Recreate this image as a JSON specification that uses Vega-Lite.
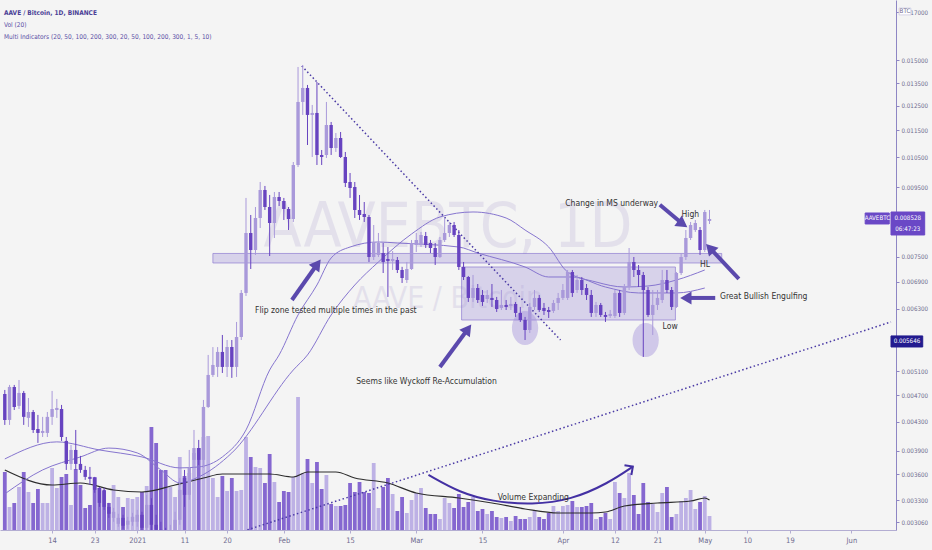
{
  "$schema": "https://vega.github.io/schema/vega-lite/v6.json",
  "width": 896,
  "height": 530,
  "autosize": {"type": "none"},
  "padding": {"left": 0, "top": 0, "right": 36, "bottom": 20},
  "background": "#f4f4f4",
  "title": {
    "text": "AAVE / Bitcoin, 1D, BINANCE",
    "subtitle": ["Vol (20)", "Multi Indicators (20, 50, 100, 200, 300, 20, 50, 100, 200, 300, 1, 5, 10)"],
    "anchor": "start",
    "frame": "group",
    "offset": -40,
    "dx": 4,
    "font": "Liberation Sans Narrow, DejaVu Sans Condensed, sans-serif",
    "fontSize": 6.5,
    "fontWeight": "bold",
    "color": "#4b3f96",
    "subtitleFont": "Liberation Sans Narrow, DejaVu Sans Condensed, sans-serif",
    "subtitleFontSize": 6.5,
    "subtitleColor": "#5b4fa6",
    "subtitlePadding": 5,
    "subtitleLineHeight": 12
  },
  "config": {
    "view": {"stroke": null},
    "axis": {"title": null, "grid": false}
  },
  "datasets": {
    "candles": [
      {"date": "2020-12-04", "o": 0.004722, "h": 0.004786, "l": 0.004253, "c": 0.004325, "v": 58},
      {"date": "2020-12-05", "o": 0.004325, "h": 0.004868, "l": 0.004253, "c": 0.004835, "v": 23},
      {"date": "2020-12-06", "o": 0.004835, "h": 0.004868, "l": 0.004473, "c": 0.004519, "v": 27},
      {"date": "2020-12-07", "o": 0.004535, "h": 0.00495, "l": 0.004488, "c": 0.004738, "v": 43},
      {"date": "2020-12-08", "o": 0.004738, "h": 0.00477, "l": 0.004253, "c": 0.00437, "v": 58},
      {"date": "2020-12-09", "o": 0.004355, "h": 0.004658, "l": 0.004224, "c": 0.004443, "v": 38},
      {"date": "2020-12-10", "o": 0.004443, "h": 0.004473, "l": 0.004139, "c": 0.004181, "v": 27},
      {"date": "2020-12-11", "o": 0.004195, "h": 0.004399, "l": 0.004002, "c": 0.004139, "v": 41},
      {"date": "2020-12-12", "o": 0.004139, "h": 0.00437, "l": 0.004083, "c": 0.004167, "v": 27},
      {"date": "2020-12-13", "o": 0.004139, "h": 0.004443, "l": 0.004083, "c": 0.00437, "v": 27},
      {"date": "2020-12-14", "o": 0.00437, "h": 0.00477, "l": 0.004253, "c": 0.004488, "v": 62},
      {"date": "2020-12-15", "o": 0.004473, "h": 0.004643, "l": 0.004355, "c": 0.004504, "v": 42},
      {"date": "2020-12-16", "o": 0.004488, "h": 0.00455, "l": 0.004029, "c": 0.004083, "v": 53},
      {"date": "2020-12-17", "o": 0.004029, "h": 0.004083, "l": 0.003653, "c": 0.003728, "v": 56},
      {"date": "2020-12-18", "o": 0.003728, "h": 0.003975, "l": 0.003653, "c": 0.003908, "v": 25},
      {"date": "2020-12-19", "o": 0.003908, "h": 0.004181, "l": 0.003653, "c": 0.003728, "v": 61},
      {"date": "2020-12-20", "o": 0.003728, "h": 0.00383, "l": 0.003617, "c": 0.003653, "v": 45},
      {"date": "2020-12-21", "o": 0.003653, "h": 0.003703, "l": 0.003532, "c": 0.003568, "v": 22},
      {"date": "2020-12-22", "o": 0.003568, "h": 0.00369, "l": 0.003473, "c": 0.003544, "v": 25},
      {"date": "2020-12-23", "o": 0.003556, "h": 0.003568, "l": 0.003381, "c": 0.003415, "v": 53},
      {"date": "2020-12-24", "o": 0.003438, "h": 0.00345, "l": 0.003224, "c": 0.003268, "v": 42},
      {"date": "2020-12-25", "o": 0.003415, "h": 0.003438, "l": 0.003192, "c": 0.003224, "v": 39},
      {"date": "2020-12-26", "o": 0.003224, "h": 0.003268, "l": 0.003107, "c": 0.00315, "v": 27},
      {"date": "2020-12-27", "o": 0.003107, "h": 0.003213, "l": 0.003066, "c": 0.003171, "v": 45},
      {"date": "2020-12-28", "o": 0.003045, "h": 0.00315, "l": 0.003015, "c": 0.003107, "v": 33},
      {"date": "2020-12-29", "o": 0.003107, "h": 0.003139, "l": 0.002994, "c": 0.003025, "v": 23},
      {"date": "2020-12-30", "o": 0.003035, "h": 0.003118, "l": 0.002994, "c": 0.003076, "v": 32},
      {"date": "2020-12-31", "o": 0.003066, "h": 0.00316, "l": 0.003025, "c": 0.003118, "v": 31},
      {"date": "2021-01-01", "o": 0.003066, "h": 0.003192, "l": 0.003015, "c": 0.003139, "v": 33},
      {"date": "2021-01-02", "o": 0.003139, "h": 0.003171, "l": 0.002964, "c": 0.003004, "v": 38},
      {"date": "2021-01-03", "o": 0.003004, "h": 0.003358, "l": 0.002964, "c": 0.003246, "v": 44},
      {"date": "2021-01-04", "o": 0.003246, "h": 0.00332, "l": 0.002934, "c": 0.003035, "v": 103},
      {"date": "2021-01-05", "o": 0.003035, "h": 0.003139, "l": 0.002905, "c": 0.002984, "v": 87},
      {"date": "2021-01-06", "o": 0.002984, "h": 0.003066, "l": 0.00284, "c": 0.002924, "v": 60},
      {"date": "2021-01-07", "o": 0.002924, "h": 0.003004, "l": 0.002792, "c": 0.00284, "v": 60},
      {"date": "2021-01-08", "o": 0.00284, "h": 0.003035, "l": 0.002773, "c": 0.002934, "v": 43},
      {"date": "2021-01-09", "o": 0.002934, "h": 0.003171, "l": 0.002885, "c": 0.003086, "v": 33},
      {"date": "2021-01-10", "o": 0.003086, "h": 0.003556, "l": 0.003035, "c": 0.003415, "v": 73},
      {"date": "2021-01-11", "o": 0.003556, "h": 0.003653, "l": 0.003224, "c": 0.003358, "v": 54},
      {"date": "2021-01-12", "o": 0.003358, "h": 0.003908, "l": 0.003302, "c": 0.003678, "v": 57},
      {"date": "2021-01-13", "o": 0.003779, "h": 0.004181, "l": 0.003678, "c": 0.003933, "v": 77},
      {"date": "2021-01-14", "o": 0.003933, "h": 0.004043, "l": 0.003715, "c": 0.003779, "v": 82},
      {"date": "2021-01-15", "o": 0.003779, "h": 0.004627, "l": 0.003678, "c": 0.004519, "v": 93},
      {"date": "2021-01-16", "o": 0.004519, "h": 0.005387, "l": 0.004504, "c": 0.005035, "v": 94},
      {"date": "2021-01-17", "o": 0.005035, "h": 0.005532, "l": 0.005001, "c": 0.005208, "v": 52},
      {"date": "2021-01-18", "o": 0.005173, "h": 0.005532, "l": 0.005001, "c": 0.005442, "v": 33},
      {"date": "2021-01-19", "o": 0.005442, "h": 0.005763, "l": 0.005069, "c": 0.005173, "v": 54},
      {"date": "2021-01-20", "o": 0.005173, "h": 0.005666, "l": 0.005001, "c": 0.005534, "v": 39},
      {"date": "2021-01-21", "o": 0.005534, "h": 0.005666, "l": 0.004985, "c": 0.005173, "v": 52},
      {"date": "2021-01-22", "o": 0.005173, "h": 0.006022, "l": 0.005001, "c": 0.005724, "v": 39},
      {"date": "2021-01-23", "o": 0.005724, "h": 0.006709, "l": 0.005666, "c": 0.006642, "v": 40},
      {"date": "2021-01-24", "o": 0.006642, "h": 0.009156, "l": 0.006575, "c": 0.008134, "v": 93},
      {"date": "2021-01-25", "o": 0.008134, "h": 0.008644, "l": 0.007202, "c": 0.007679, "v": 73},
      {"date": "2021-01-26", "o": 0.007679, "h": 0.00888, "l": 0.007551, "c": 0.008556, "v": 63},
      {"date": "2021-01-27", "o": 0.008556, "h": 0.009663, "l": 0.008272, "c": 0.009406, "v": 62},
      {"date": "2021-01-28", "o": 0.009406, "h": 0.009534, "l": 0.008791, "c": 0.00888, "v": 47},
      {"date": "2021-01-29", "o": 0.00888, "h": 0.009248, "l": 0.007525, "c": 0.008413, "v": 76},
      {"date": "2021-01-30", "o": 0.008413, "h": 0.009342, "l": 0.007997, "c": 0.009186, "v": 48},
      {"date": "2021-01-31", "o": 0.009186, "h": 0.009342, "l": 0.00891, "c": 0.009062, "v": 28},
      {"date": "2021-02-01", "o": 0.009062, "h": 0.009156, "l": 0.008499, "c": 0.008821, "v": 39},
      {"date": "2021-02-02", "o": 0.008821, "h": 0.00888, "l": 0.008216, "c": 0.008528, "v": 38},
      {"date": "2021-02-03", "o": 0.008528, "h": 0.010338, "l": 0.008442, "c": 0.010234, "v": 53},
      {"date": "2021-02-04", "o": 0.010234, "h": 0.014251, "l": 0.010165, "c": 0.012663, "v": 133},
      {"date": "2021-02-05", "o": 0.012663, "h": 0.014348, "l": 0.012119, "c": 0.013276, "v": 57},
      {"date": "2021-02-06", "o": 0.013276, "h": 0.013411, "l": 0.010949, "c": 0.012119, "v": 71},
      {"date": "2021-02-07", "o": 0.012119, "h": 0.012535, "l": 0.010515, "c": 0.012201, "v": 47},
      {"date": "2021-02-08", "o": 0.012201, "h": 0.013547, "l": 0.010234, "c": 0.010586, "v": 68},
      {"date": "2021-02-09", "o": 0.010586, "h": 0.010766, "l": 0.010234, "c": 0.010515, "v": 41},
      {"date": "2021-02-10", "o": 0.010586, "h": 0.012663, "l": 0.010479, "c": 0.011714, "v": 55},
      {"date": "2021-02-11", "o": 0.011714, "h": 0.011835, "l": 0.010586, "c": 0.010839, "v": 26},
      {"date": "2021-02-12", "o": 0.010839, "h": 0.011402, "l": 0.010694, "c": 0.011212, "v": 24},
      {"date": "2021-02-13", "o": 0.011212, "h": 0.011441, "l": 0.010479, "c": 0.010515, "v": 24},
      {"date": "2021-02-14", "o": 0.010515, "h": 0.010694, "l": 0.0095, "c": 0.009631, "v": 25},
      {"date": "2021-02-15", "o": 0.009663, "h": 0.009961, "l": 0.009156, "c": 0.009469, "v": 47},
      {"date": "2021-02-16", "o": 0.0095, "h": 0.009663, "l": 0.008556, "c": 0.008791, "v": 38},
      {"date": "2021-02-17", "o": 0.008791, "h": 0.009248, "l": 0.008499, "c": 0.008644, "v": 48},
      {"date": "2021-02-18", "o": 0.008673, "h": 0.009031, "l": 0.008442, "c": 0.008585, "v": 38},
      {"date": "2021-02-19", "o": 0.008585, "h": 0.008644, "l": 0.007375, "c": 0.0075, "v": 37},
      {"date": "2021-02-20", "o": 0.0075, "h": 0.008356, "l": 0.007424, "c": 0.00789, "v": 67},
      {"date": "2021-02-21", "o": 0.007551, "h": 0.008134, "l": 0.0075, "c": 0.007863, "v": 22},
      {"date": "2021-02-22", "o": 0.007602, "h": 0.007863, "l": 0.007105, "c": 0.007375, "v": 43},
      {"date": "2021-02-23", "o": 0.007449, "h": 0.007757, "l": 0.006553, "c": 0.0074, "v": 52},
      {"date": "2021-02-24", "o": 0.0074, "h": 0.007653, "l": 0.007178, "c": 0.007449, "v": 36},
      {"date": "2021-02-25", "o": 0.007424, "h": 0.0075, "l": 0.007105, "c": 0.007178, "v": 19},
      {"date": "2021-02-26", "o": 0.007178, "h": 0.007255, "l": 0.00687, "c": 0.006986, "v": 33},
      {"date": "2021-02-27", "o": 0.006939, "h": 0.007375, "l": 0.00687, "c": 0.007202, "v": 17},
      {"date": "2021-02-28", "o": 0.007202, "h": 0.007944, "l": 0.007178, "c": 0.007863, "v": 30},
      {"date": "2021-03-01", "o": 0.00781, "h": 0.008134, "l": 0.007627, "c": 0.007944, "v": 37},
      {"date": "2021-03-02", "o": 0.00781, "h": 0.008162, "l": 0.007757, "c": 0.008079, "v": 42},
      {"date": "2021-03-03", "o": 0.008052, "h": 0.008162, "l": 0.007731, "c": 0.00781, "v": 22},
      {"date": "2021-03-04", "o": 0.007863, "h": 0.007944, "l": 0.007602, "c": 0.007731, "v": 16},
      {"date": "2021-03-05", "o": 0.007731, "h": 0.007863, "l": 0.0073, "c": 0.0075, "v": 16},
      {"date": "2021-03-06", "o": 0.0075, "h": 0.008025, "l": 0.007475, "c": 0.007944, "v": 11},
      {"date": "2021-03-07", "o": 0.007944, "h": 0.008556, "l": 0.00789, "c": 0.008134, "v": 32},
      {"date": "2021-03-08", "o": 0.008134, "h": 0.008442, "l": 0.008025, "c": 0.008356, "v": 27},
      {"date": "2021-03-09", "o": 0.008356, "h": 0.008442, "l": 0.008025, "c": 0.008079, "v": 22},
      {"date": "2021-03-10", "o": 0.008079, "h": 0.008216, "l": 0.007178, "c": 0.007251, "v": 36},
      {"date": "2021-03-11", "o": 0.007251, "h": 0.007375, "l": 0.006939, "c": 0.00701, "v": 23},
      {"date": "2021-03-12", "o": 0.00701, "h": 0.007034, "l": 0.006443, "c": 0.006531, "v": 28},
      {"date": "2021-03-13", "o": 0.006531, "h": 0.007058, "l": 0.006443, "c": 0.006754, "v": 33},
      {"date": "2021-03-14", "o": 0.006754, "h": 0.006846, "l": 0.006421, "c": 0.006486, "v": 19},
      {"date": "2021-03-15", "o": 0.006597, "h": 0.006709, "l": 0.006357, "c": 0.006443, "v": 21},
      {"date": "2021-03-16", "o": 0.006508, "h": 0.006709, "l": 0.006421, "c": 0.006597, "v": 16},
      {"date": "2021-03-17", "o": 0.006531, "h": 0.006846, "l": 0.006335, "c": 0.006486, "v": 19},
      {"date": "2021-03-18", "o": 0.006486, "h": 0.006553, "l": 0.006229, "c": 0.006292, "v": 13},
      {"date": "2021-03-19", "o": 0.006314, "h": 0.006709, "l": 0.006271, "c": 0.006378, "v": 12},
      {"date": "2021-03-20", "o": 0.006378, "h": 0.006486, "l": 0.006271, "c": 0.006335, "v": 13},
      {"date": "2021-03-21", "o": 0.006357, "h": 0.006553, "l": 0.006271, "c": 0.0064, "v": 9},
      {"date": "2021-03-22", "o": 0.0064, "h": 0.006443, "l": 0.006125, "c": 0.006208, "v": 14},
      {"date": "2021-03-23", "o": 0.006208, "h": 0.006335, "l": 0.006022, "c": 0.006062, "v": 11},
      {"date": "2021-03-24", "o": 0.006062, "h": 0.006125, "l": 0.005666, "c": 0.005861, "v": 11},
      {"date": "2021-03-25", "o": 0.005861, "h": 0.006421, "l": 0.005802, "c": 0.006335, "v": 13},
      {"date": "2021-03-26", "o": 0.006335, "h": 0.006709, "l": 0.006271, "c": 0.006531, "v": 19},
      {"date": "2021-03-27", "o": 0.006531, "h": 0.006597, "l": 0.006229, "c": 0.006271, "v": 13},
      {"date": "2021-03-28", "o": 0.006314, "h": 0.006421, "l": 0.006166, "c": 0.00625, "v": 11},
      {"date": "2021-03-29", "o": 0.006271, "h": 0.006335, "l": 0.006104, "c": 0.006229, "v": 17},
      {"date": "2021-03-30", "o": 0.00625, "h": 0.006486, "l": 0.006208, "c": 0.006421, "v": 24},
      {"date": "2021-03-31", "o": 0.006421, "h": 0.006642, "l": 0.006271, "c": 0.006531, "v": 19},
      {"date": "2021-04-01", "o": 0.006531, "h": 0.006846, "l": 0.006486, "c": 0.006709, "v": 24},
      {"date": "2021-04-02", "o": 0.006531, "h": 0.007178, "l": 0.006486, "c": 0.00713, "v": 25},
      {"date": "2021-04-03", "o": 0.00713, "h": 0.007178, "l": 0.006553, "c": 0.006642, "v": 29},
      {"date": "2021-04-04", "o": 0.006709, "h": 0.007058, "l": 0.006642, "c": 0.006939, "v": 23},
      {"date": "2021-04-05", "o": 0.006939, "h": 0.00701, "l": 0.006597, "c": 0.006709, "v": 23},
      {"date": "2021-04-06", "o": 0.006754, "h": 0.006846, "l": 0.006486, "c": 0.006597, "v": 24},
      {"date": "2021-04-07", "o": 0.006597, "h": 0.006709, "l": 0.006125, "c": 0.006208, "v": 27},
      {"date": "2021-04-08", "o": 0.006208, "h": 0.006443, "l": 0.006125, "c": 0.006378, "v": 11},
      {"date": "2021-04-09", "o": 0.006378, "h": 0.006421, "l": 0.006125, "c": 0.006166, "v": 13},
      {"date": "2021-04-10", "o": 0.006166, "h": 0.006229, "l": 0.006022, "c": 0.006125, "v": 17},
      {"date": "2021-04-11", "o": 0.006145, "h": 0.006271, "l": 0.006104, "c": 0.006187, "v": 11},
      {"date": "2021-04-12", "o": 0.006145, "h": 0.006709, "l": 0.006104, "c": 0.006642, "v": 48},
      {"date": "2021-04-13", "o": 0.006642, "h": 0.006709, "l": 0.006125, "c": 0.006208, "v": 37},
      {"date": "2021-04-14", "o": 0.006208, "h": 0.006846, "l": 0.006166, "c": 0.006777, "v": 32},
      {"date": "2021-04-15", "o": 0.006777, "h": 0.007731, "l": 0.006709, "c": 0.007375, "v": 57},
      {"date": "2021-04-16", "o": 0.007375, "h": 0.0075, "l": 0.00701, "c": 0.007178, "v": 35},
      {"date": "2021-04-17", "o": 0.007178, "h": 0.0073, "l": 0.006777, "c": 0.007058, "v": 16},
      {"date": "2021-04-18", "o": 0.007058, "h": 0.00713, "l": 0.005351, "c": 0.006709, "v": 47},
      {"date": "2021-04-19", "o": 0.006709, "h": 0.006777, "l": 0.006125, "c": 0.006166, "v": 28},
      {"date": "2021-04-20", "o": 0.006166, "h": 0.006709, "l": 0.005763, "c": 0.006378, "v": 26},
      {"date": "2021-04-21", "o": 0.006378, "h": 0.006709, "l": 0.006271, "c": 0.006531, "v": 18},
      {"date": "2021-04-22", "o": 0.006486, "h": 0.007178, "l": 0.006421, "c": 0.006939, "v": 37},
      {"date": "2021-04-23", "o": 0.006939, "h": 0.007178, "l": 0.006642, "c": 0.006709, "v": 43},
      {"date": "2021-04-24", "o": 0.006709, "h": 0.006777, "l": 0.006271, "c": 0.006335, "v": 13},
      {"date": "2021-04-25", "o": 0.006335, "h": 0.00713, "l": 0.006314, "c": 0.007105, "v": 16},
      {"date": "2021-04-26", "o": 0.007105, "h": 0.007602, "l": 0.007058, "c": 0.0075, "v": 29},
      {"date": "2021-04-27", "o": 0.0075, "h": 0.008216, "l": 0.007424, "c": 0.007997, "v": 32},
      {"date": "2021-04-28", "o": 0.007997, "h": 0.008442, "l": 0.007944, "c": 0.008356, "v": 40},
      {"date": "2021-04-29", "o": 0.008216, "h": 0.008499, "l": 0.008162, "c": 0.008413, "v": 21},
      {"date": "2021-04-30", "o": 0.008216, "h": 0.008299, "l": 0.007551, "c": 0.007679, "v": 28},
      {"date": "2021-05-01", "o": 0.007679, "h": 0.008791, "l": 0.007627, "c": 0.008732, "v": 34},
      {"date": "2021-05-02", "o": 0.008471, "h": 0.008791, "l": 0.008384, "c": 0.008528, "v": 14}
    ],
    "volma": [
      {"date": "2020-12-04", "v": 60},
      {"date": "2020-12-14", "v": 45},
      {"date": "2020-12-20", "v": 47},
      {"date": "2020-12-27", "v": 40},
      {"date": "2021-01-02", "v": 38},
      {"date": "2021-01-09", "v": 45},
      {"date": "2021-01-15", "v": 52},
      {"date": "2021-01-19", "v": 56},
      {"date": "2021-01-29", "v": 56},
      {"date": "2021-02-03", "v": 53},
      {"date": "2021-02-06", "v": 58},
      {"date": "2021-02-12", "v": 58},
      {"date": "2021-02-16", "v": 52},
      {"date": "2021-02-23", "v": 47},
      {"date": "2021-03-01", "v": 37},
      {"date": "2021-03-10", "v": 32},
      {"date": "2021-03-17", "v": 27},
      {"date": "2021-03-24", "v": 21},
      {"date": "2021-03-31", "v": 17},
      {"date": "2021-04-07", "v": 17},
      {"date": "2021-04-10", "v": 18},
      {"date": "2021-04-14", "v": 24},
      {"date": "2021-04-21", "v": 27},
      {"date": "2021-04-28", "v": 29},
      {"date": "2021-05-01", "v": 32},
      {"date": "2021-05-02", "v": 30}
    ],
    "ma": [
      {"s": "a", "date": "2020-12-04", "p": 0.003791},
      {"s": "a", "date": "2020-12-15", "p": 0.004016},
      {"s": "a", "date": "2020-12-24", "p": 0.003908},
      {"s": "a", "date": "2021-01-02", "p": 0.003817},
      {"s": "a", "date": "2021-01-10", "p": 0.003678},
      {"s": "a", "date": "2021-01-14", "p": 0.00369},
      {"s": "a", "date": "2021-01-19", "p": 0.003817},
      {"s": "a", "date": "2021-01-24", "p": 0.004181},
      {"s": "a", "date": "2021-01-29", "p": 0.00512},
      {"s": "a", "date": "2021-01-31", "p": 0.005387},
      {"s": "a", "date": "2021-02-04", "p": 0.006166},
      {"s": "a", "date": "2021-02-08", "p": 0.006823},
      {"s": "a", "date": "2021-02-11", "p": 0.007475},
      {"s": "a", "date": "2021-02-15", "p": 0.007757},
      {"s": "a", "date": "2021-02-21", "p": 0.00789},
      {"s": "a", "date": "2021-02-25", "p": 0.007863},
      {"s": "a", "date": "2021-03-10", "p": 0.007757},
      {"s": "a", "date": "2021-03-14", "p": 0.007602},
      {"s": "a", "date": "2021-03-24", "p": 0.007251},
      {"s": "a", "date": "2021-03-29", "p": 0.00701},
      {"s": "a", "date": "2021-04-03", "p": 0.00701},
      {"s": "a", "date": "2021-04-10", "p": 0.006777},
      {"s": "a", "date": "2021-04-17", "p": 0.006642},
      {"s": "a", "date": "2021-04-25", "p": 0.006642},
      {"s": "a", "date": "2021-05-01", "p": 0.006754},
      {"s": "b", "date": "2020-12-04", "p": 0.003369},
      {"s": "b", "date": "2020-12-12", "p": 0.003653},
      {"s": "b", "date": "2020-12-20", "p": 0.003817},
      {"s": "b", "date": "2020-12-26", "p": 0.003933},
      {"s": "b", "date": "2021-01-01", "p": 0.003869},
      {"s": "b", "date": "2021-01-06", "p": 0.003653},
      {"s": "b", "date": "2021-01-10", "p": 0.003497},
      {"s": "b", "date": "2021-01-14", "p": 0.003568},
      {"s": "b", "date": "2021-01-21", "p": 0.003869},
      {"s": "b", "date": "2021-02-03", "p": 0.00512},
      {"s": "b", "date": "2021-02-06", "p": 0.005387},
      {"s": "b", "date": "2021-02-11", "p": 0.006166},
      {"s": "b", "date": "2021-02-16", "p": 0.006823},
      {"s": "b", "date": "2021-02-21", "p": 0.007375},
      {"s": "b", "date": "2021-02-28", "p": 0.008106},
      {"s": "b", "date": "2021-03-06", "p": 0.008585},
      {"s": "b", "date": "2021-03-13", "p": 0.008732},
      {"s": "b", "date": "2021-03-20", "p": 0.008556},
      {"s": "b", "date": "2021-03-24", "p": 0.008216},
      {"s": "b", "date": "2021-03-29", "p": 0.007757},
      {"s": "b", "date": "2021-04-02", "p": 0.00713},
      {"s": "b", "date": "2021-04-08", "p": 0.006893},
      {"s": "b", "date": "2021-04-14", "p": 0.006777},
      {"s": "b", "date": "2021-04-19", "p": 0.0068},
      {"s": "b", "date": "2021-04-25", "p": 0.006939},
      {"s": "b", "date": "2021-05-01", "p": 0.007178}
    ],
    "zones": [
      {"date": "2021-01-17T00:00:00Z", "date2": "2021-05-04T14:00:00Z", "p1": 0.00759, "p2": 0.00735},
      {"date": "2021-03-10T14:00:00Z", "date2": "2021-04-24T19:00:00Z", "p1": 0.007251, "p2": 0.006062}
    ],
    "circles": [
      {"date": "2021-03-24T00:00:00Z", "p": 0.0059},
      {"date": "2021-04-18T12:00:00Z", "p": 0.005666}
    ],
    "trends": [
      {"id": "down", "date": "2021-02-04T19:00:00Z", "p": 0.0143},
      {"id": "down", "date": "2021-03-31T12:00:00Z", "p": 0.005666},
      {"id": "up", "date": "2021-01-24T07:00:00Z", "p": 0.002984},
      {"id": "up", "date": "2021-06-09T09:00:00Z", "p": 0.006022}
    ],
    "arrows": [
      {"id": "a1", "date": "2021-02-02T17:00:00Z", "p": 0.006486, "date2": "2021-02-08T02:00:00Z", "p2": 0.007325},
      {"id": "a2", "date": "2021-03-06T00:00:00Z", "p": 0.005173, "date2": "2021-03-11T22:00:00Z", "p2": 0.005881},
      {"id": "a3", "date": "2021-04-21T12:00:00Z", "p": 0.00895, "date2": "2021-04-26T08:00:00Z", "p2": 0.008385},
      {"id": "a4", "date": "2021-05-08T05:00:00Z", "p": 0.006963, "date2": "2021-05-02T02:00:00Z", "p2": 0.007731},
      {"id": "a5", "date": "2021-05-03T05:00:00Z", "p": 0.006531, "date2": "2021-04-27T00:00:00Z", "p2": 0.006531}
    ],
    "arc": [
      {"date": "2021-03-03T14:00:00Z", "p": 0.003592},
      {"date": "2021-03-10T05:00:00Z", "p": 0.003382},
      {"date": "2021-03-17T02:00:00Z", "p": 0.003283},
      {"date": "2021-03-25T12:00:00Z", "p": 0.003246},
      {"date": "2021-04-02T19:00:00Z", "p": 0.003302},
      {"date": "2021-04-10T14:00:00Z", "p": 0.003492},
      {"date": "2021-04-15T19:00:00Z", "p": 0.003694}
    ],
    "notes": [
      {"date": "2021-01-25T22:00:00Z", "p": 0.006271, "t": "Flip zone tested multiple times in the past"},
      {"date": "2021-02-16T07:00:00Z", "p": 0.004933, "t": "Seems like Wyckoff Re-Accumulation"},
      {"date": "2021-04-01T12:00:00Z", "p": 0.009002, "t": "Change in MS underway"},
      {"date": "2021-04-26T02:00:00Z", "p": 0.008673, "t": "High"},
      {"date": "2021-04-30T00:00:00Z", "p": 0.007325, "t": "HL"},
      {"date": "2021-04-22T02:00:00Z", "p": 0.005941, "t": "Low"},
      {"date": "2021-05-04T05:00:00Z", "p": 0.006575, "t": "Great Bullish Engulfing"},
      {"date": "2021-03-18T05:00:00Z", "p": 0.00333, "t": "Volume Expanding"}
    ],
    "tags": [
      {"date": "2021-06-03T22:00:00Z", "date2": "2021-06-09T00:00:00Z", "p1": 0.008702, "p2": 0.008385, "k": "sym"},
      {"date": "2021-06-09T09:00:00Z", "date2": "2021-06-16T12:00:00Z", "p1": 0.008731, "p2": 0.008079, "k": "last"},
      {"date": "2021-06-09T09:00:00Z", "date2": "2021-06-16T02:00:00Z", "p1": 0.005744, "p2": 0.005534, "k": "line"},
      {"date": "2021-06-11T02:00:00Z", "date2": "2021-06-13T14:00:00Z", "p1": 0.01739, "p2": 0.01699, "k": "btc"}
    ],
    "tagtext": [
      {"date": "2021-06-06T12:00:00Z", "p": 0.008542, "t": "AAVEBTC", "k": "w"},
      {"date": "2021-06-12T22:00:00Z", "p": 0.008556, "t": "0.008528", "k": "w"},
      {"date": "2021-06-12T22:00:00Z", "p": 0.008244, "t": "06:47:23", "k": "w"},
      {"date": "2021-06-12T18:00:00Z", "p": 0.005646, "t": "0.005646", "k": "w"},
      {"date": "2021-06-12T08:00:00Z", "p": 0.01719, "t": "BTC", "k": "g"}
    ]
  },
  "layer": [
    {
      "layer": [
        {
          "data": {"name": "candles"},
          "mark": {"type": "bar", "size": 3.8},
          "encoding": {
            "x": {"field": "date", "type": "temporal", "scale": {"type": "utc", "domain": ["2020-12-04T01:00:00Z", "2021-06-09T09:00:00Z"]}},
            "y": {"field": "v", "type": "quantitative", "scale": {"domain": [0, 530], "nice": false, "zero": true}, "axis": null},
            "color": {"condition": {"test": "datum.c >= datum.o", "value": "#bdb1e5"}, "value": "#8567d0"}
          }
        },
        {
          "data": {"name": "volma"},
          "mark": {"type": "line", "interpolate": "monotone", "strokeWidth": 1.2, "color": "#2d2d2d"},
          "encoding": {
            "x": {"field": "date", "type": "temporal"},
            "y": {"field": "v", "type": "quantitative", "axis": null}
          }
        }
      ]
    },
    {
      "layer": [
        {
          "data": {"values": [{"date": "2021-03-07T17:00:00Z", "p": 0.008271, "t": "AAVEBTC, 1D"}]},
          "mark": {"type": "text", "align": "center", "baseline": "middle", "font": "Liberation Sans Narrow, DejaVu Sans Condensed, sans-serif", "fontSize": 62, "color": "#9a8cc8", "opacity": 0.18},
          "encoding": {
            "x": {"field": "date", "type": "temporal"},
            "y": {"field": "p", "type": "quantitative"},
            "text": {"field": "t"}
          }
        },
        {
          "data": {"values": [{"date": "2021-03-07T17:00:00Z", "p": 0.0065, "t": "AAVE / Bitcoin"}]},
          "mark": {"type": "text", "align": "center", "baseline": "middle", "font": "Liberation Sans Narrow, DejaVu Sans Condensed, sans-serif", "fontSize": 30, "color": "#9a8cc8", "opacity": 0.18},
          "encoding": {
            "x": {"field": "date", "type": "temporal"},
            "y": {"field": "p", "type": "quantitative"},
            "text": {"field": "t"}
          }
        },
        {
          "data": {"name": "zones"},
          "mark": {"type": "rect", "color": "#9d8bd8", "fillOpacity": 0.32, "stroke": "#8f7cd2", "strokeOpacity": 0.7, "strokeWidth": 1},
          "encoding": {
            "x": {"field": "date", "type": "temporal"},
            "x2": {"field": "date2"},
            "y": {"field": "p1", "type": "quantitative"},
            "y2": {"field": "p2"}
          }
        },
        {
          "data": {"name": "circles"},
          "mark": {"type": "point", "shape": "M0,-1.3A1,1.3,0,1,1,0,1.3A1,1.3,0,1,1,0,-1.3Z", "filled": true, "size": 690, "color": "#9d8bd8", "opacity": 0.42, "strokeWidth": 0},
          "encoding": {
            "x": {"field": "date", "type": "temporal"},
            "y": {"field": "p", "type": "quantitative"}
          }
        },
        {
          "data": {"name": "ma"},
          "mark": {"type": "line", "interpolate": "monotone", "strokeWidth": 1, "color": "#8675cf"},
          "encoding": {
            "x": {"field": "date", "type": "temporal"},
            "y": {"field": "p", "type": "quantitative"},
            "detail": {"field": "s"}
          }
        },
        {
          "mark": {"type": "rule", "color": "#231b8f", "strokeWidth": 2},
          "encoding": {
            "y": {"datum": 0.005646, "type": "quantitative"}
          }
        },
        {
          "data": {"name": "trends"},
          "mark": {"type": "line", "color": "#4a3aa5", "strokeWidth": 1.5, "strokeDash": [1.5, 2.5], "clip": true},
          "encoding": {
            "x": {"field": "date", "type": "temporal"},
            "y": {"field": "p", "type": "quantitative"},
            "detail": {"field": "id"}
          }
        },
        {
          "data": {"name": "candles"},
          "mark": {"type": "rule", "strokeWidth": 1, "clip": true},
          "encoding": {
            "x": {"field": "date", "type": "temporal"},
            "y": {"field": "l", "type": "quantitative"},
            "y2": {"field": "h"},
            "color": {"condition": {"test": "datum.c >= datum.o", "value": "#a999da"}, "value": "#6743c0"}
          }
        },
        {
          "data": {"name": "candles"},
          "mark": {"type": "bar", "size": 3.4, "clip": true},
          "encoding": {
            "x": {
              "field": "date",
              "type": "temporal",
              "axis": {
                "values": ["2020-12-14", "2020-12-23", "2021-01-01", "2021-01-11", "2021-01-20", "2021-02-01", "2021-02-15", "2021-03-01", "2021-03-15", "2021-04-01", "2021-04-12", "2021-04-21", "2021-05-01", "2021-05-10", "2021-05-19", "2021-06-01"],
                "labelExpr": "utcdate(datum.value) == 1 ? (utcmonth(datum.value) == 0 ? utcFormat(datum.value, '%Y') : utcFormat(datum.value, '%b')) : utcFormat(datum.value, '%-d')",
                "labelFont": "Liberation Sans Narrow, DejaVu Sans Condensed, sans-serif",
                "labelFontSize": 7.5,
                "labelColor": "#6e6a8e",
                "labelPadding": 3,
                "tickSize": 3,
                "tickColor": "#b3add2",
                "domainColor": "#b3add2",
                "labelFlush": false
              }
            },
            "y": {
              "field": "o",
              "type": "quantitative",
              "scale": {"type": "log", "domain": [0.002982, 0.01787], "nice": false, "zero": false},
              "axis": {
                "orient": "right",
                "values": [0.01716, 0.01458, 0.0135, 0.0125, 0.0115, 0.0105, 0.0095, 0.0075, 0.0069, 0.0063, 0.0051, 0.0047, 0.0043, 0.0039, 0.0036, 0.0033, 0.00306],
                "labelExpr": "datum.value > 0.017 ? '0.017000' : (datum.value > 0.0144 && datum.value < 0.0148 ? '0.015000' : format(datum.value, '.6f'))",
                "labelFont": "Liberation Sans Narrow, DejaVu Sans Condensed, sans-serif",
                "labelFontSize": 6.2,
                "labelColor": "#6e6a8e",
                "labelPadding": 2,
                "tickSize": 3,
                "tickColor": "#8e86c4",
                "domainColor": "#8e86c4",
                "labelFlush": false,
                "labelOverlap": false
              }
            },
            "y2": {"field": "c"},
            "color": {"condition": {"test": "datum.c >= datum.o", "value": "#a999da"}, "value": "#6743c0"}
          }
        },
        {
          "data": {"name": "arrows"},
          "mark": {"type": "rule", "color": "#5b49ad", "strokeWidth": 4},
          "encoding": {
            "x": {"field": "date", "type": "temporal"},
            "y": {"field": "p", "type": "quantitative"},
            "x2": {"field": "date2"},
            "y2": {"field": "p2"}
          }
        },
        {
          "data": {"name": "arrows"},
          "transform": [{"filter": "datum.id == 'a1'"}],
          "mark": {"type": "point", "shape": "triangle-up", "filled": true, "size": 170, "angle": 36, "color": "#5b49ad", "opacity": 1},
          "encoding": {"x": {"field": "date2", "type": "temporal"}, "y": {"field": "p2", "type": "quantitative"}}
        },
        {
          "data": {"name": "arrows"},
          "transform": [{"filter": "datum.id == 'a2'"}],
          "mark": {"type": "point", "shape": "triangle-up", "filled": true, "size": 170, "angle": 36, "color": "#5b49ad", "opacity": 1},
          "encoding": {"x": {"field": "date2", "type": "temporal"}, "y": {"field": "p2", "type": "quantitative"}}
        },
        {
          "data": {"name": "arrows"},
          "transform": [{"filter": "datum.id == 'a3'"}],
          "mark": {"type": "point", "shape": "triangle-up", "filled": true, "size": 170, "angle": 125, "color": "#5b49ad", "opacity": 1},
          "encoding": {"x": {"field": "date2", "type": "temporal"}, "y": {"field": "p2", "type": "quantitative"}}
        },
        {
          "data": {"name": "arrows"},
          "transform": [{"filter": "datum.id == 'a4'"}],
          "mark": {"type": "point", "shape": "triangle-up", "filled": true, "size": 170, "angle": -43, "color": "#5b49ad", "opacity": 1},
          "encoding": {"x": {"field": "date2", "type": "temporal"}, "y": {"field": "p2", "type": "quantitative"}}
        },
        {
          "data": {"name": "arrows"},
          "transform": [{"filter": "datum.id == 'a5'"}],
          "mark": {"type": "point", "shape": "triangle-up", "filled": true, "size": 170, "angle": -90, "color": "#5b49ad", "opacity": 1},
          "encoding": {"x": {"field": "date2", "type": "temporal"}, "y": {"field": "p2", "type": "quantitative"}}
        },
        {
          "data": {"name": "arc"},
          "mark": {"type": "line", "interpolate": "basis", "color": "#4330a3", "strokeWidth": 2},
          "encoding": {
            "x": {"field": "date", "type": "temporal"},
            "y": {"field": "p", "type": "quantitative"}
          }
        },
        {
          "data": {"values": [{"date": "2021-04-15T19:00:00Z", "p": 0.003694}]},
          "mark": {"type": "point", "shape": "M-1,1L0,0L1,1", "filled": false, "size": 144, "angle": 55, "color": "#4330a3", "strokeWidth": 2, "opacity": 1},
          "encoding": {
            "x": {"field": "date", "type": "temporal"},
            "y": {"field": "p", "type": "quantitative"}
          }
        },
        {
          "data": {"name": "notes"},
          "mark": {"type": "text", "align": "left", "baseline": "middle", "font": "Liberation Sans Narrow, DejaVu Sans Condensed, sans-serif", "fontSize": 8.5, "color": "#333333"},
          "encoding": {
            "x": {"field": "date", "type": "temporal"},
            "y": {"field": "p", "type": "quantitative"},
            "text": {"field": "t"}
          }
        },
        {
          "data": {"name": "tags"},
          "mark": {"type": "rect", "strokeWidth": 1},
          "encoding": {
            "x": {"field": "date", "type": "temporal"},
            "x2": {"field": "date2"},
            "y": {"field": "p1", "type": "quantitative"},
            "y2": {"field": "p2"},
            "color": {
              "condition": [
                {"test": "datum.k == 'line'", "value": "#231b8f"},
                {"test": "datum.k == 'btc'", "value": "#ffffff"}
              ],
              "value": "#6a48c6"
            },
            "stroke": {
              "condition": [
                {"test": "datum.k == 'line'", "value": "#231b8f"},
                {"test": "datum.k == 'btc'", "value": "#d6d3e6"}
              ],
              "value": "#6a48c6"
            }
          }
        },
        {
          "data": {"name": "tagtext"},
          "mark": {"type": "text", "align": "center", "baseline": "middle", "font": "Liberation Sans Narrow, DejaVu Sans Condensed, sans-serif", "fontSize": 6.2},
          "encoding": {
            "x": {"field": "date", "type": "temporal"},
            "y": {"field": "p", "type": "quantitative"},
            "text": {"field": "t"},
            "color": {
              "condition": {"test": "datum.k == 'g'", "value": "#6e6a8e"},
              "value": "#ffffff"
            }
          }
        }
      ]
    }
  ],
  "resolve": {"scale": {"y": "independent"}}
}
